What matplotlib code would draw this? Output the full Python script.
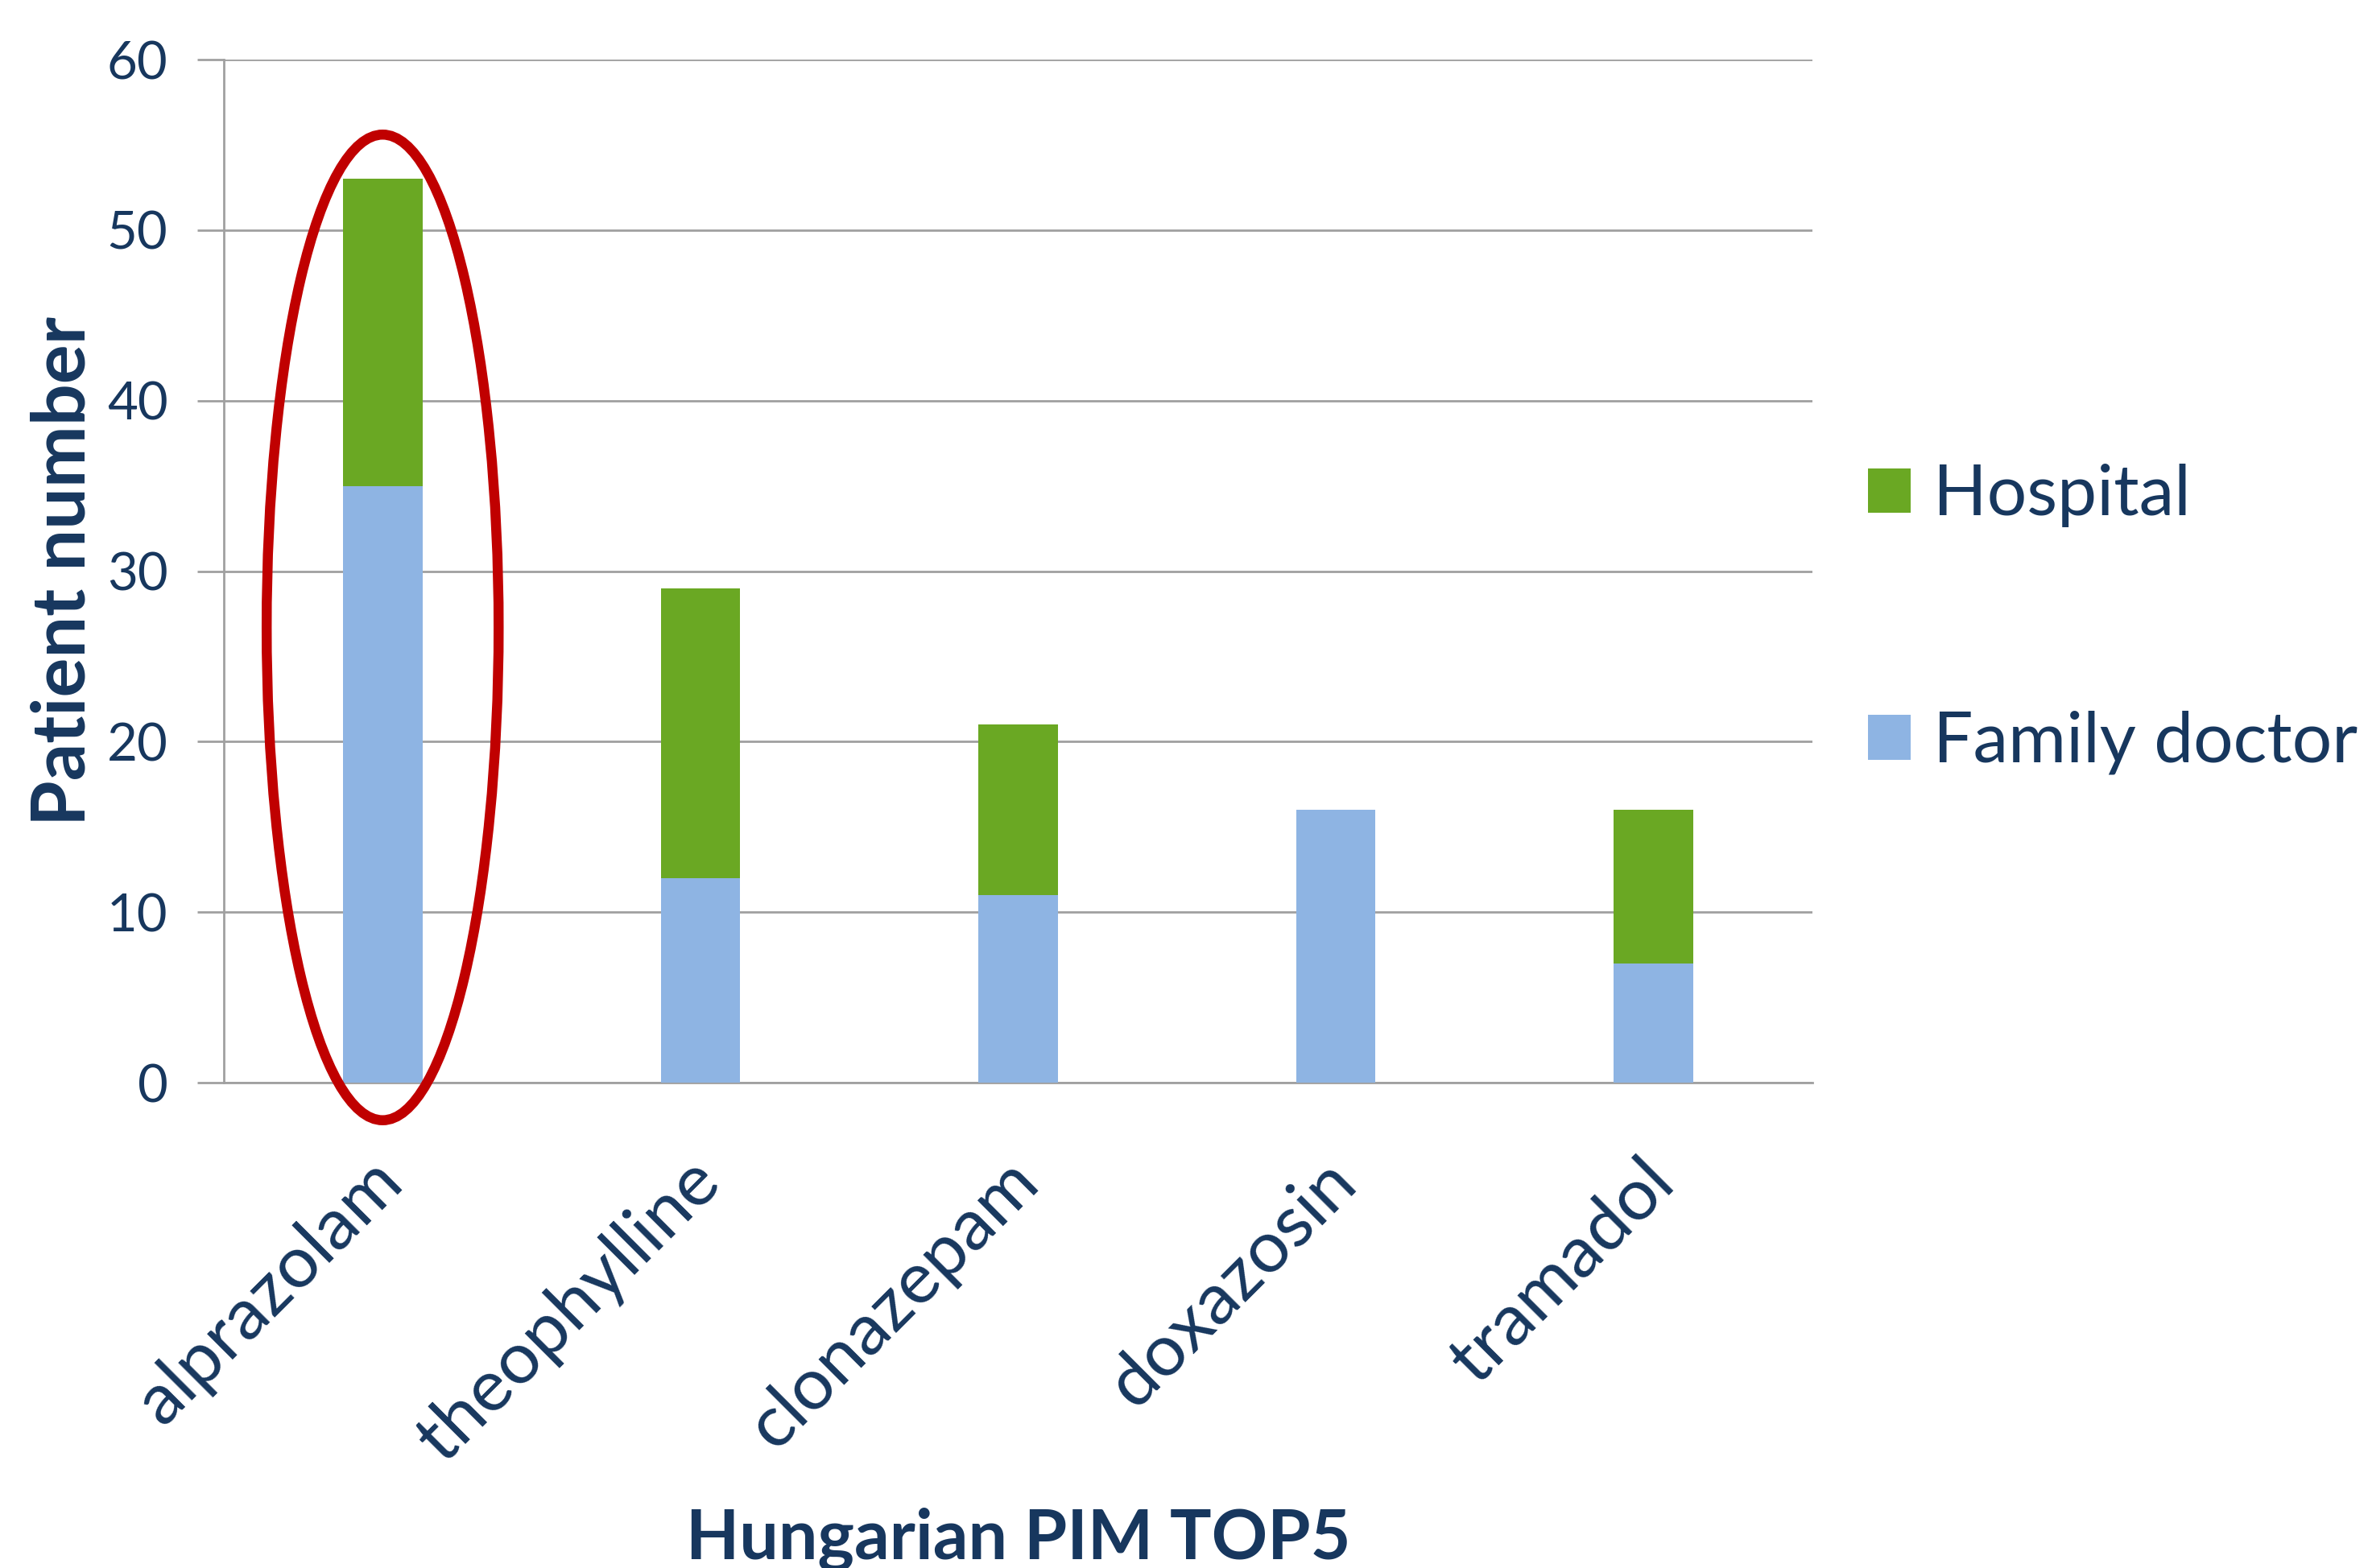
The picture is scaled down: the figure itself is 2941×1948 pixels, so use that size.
import matplotlib.pyplot as plt
from matplotlib.patches import Ellipse
from matplotlib.transforms import ScaledTranslation

drugs = ['alprazolam', 'theophylline', 'clonazepam', 'doxazosin', 'tramadol']
family_doctor = [35, 12, 11, 16, 7]
hospital = [18, 17, 10, 0, 9]
yticks = [0, 10, 20, 30, 40, 50, 60]

navy = '#17375E'
green = '#6AA823'
blue = '#8EB4E3'
grid = '#A0A0A0'

plt.rcParams['font.family'] = ['Lato', 'DejaVu Sans']

fig = plt.figure(figsize=[29.41, 19.48], dpi=100)
ax = fig.add_axes([0.0945, 0.3095, 0.6709, 0.6525])

x = list(range(len(drugs)))
ax.bar(x, family_doctor, width=0.25, color=blue, label='Family doctor', zorder=3)
ax.bar(x, hospital, width=0.25, bottom=family_doctor, color=green, label='Hospital', zorder=3)

ax.set_xlim(-0.5, len(drugs) - 0.5)
ax.set_ylim(0, 60)
ax.set_yticks(yticks)
ax.yaxis.grid(True, color=grid, linewidth=2, zorder=0)
ax.set_axisbelow(True)

for s in ['top', 'right']:
    ax.spines[s].set_visible(False)
ax.spines['left'].set_color(grid)
ax.spines['left'].set_linewidth(2)
ax.spines['bottom'].set_color(grid)
ax.spines['bottom'].set_linewidth(2)

ax.tick_params(axis='y', length=24, width=2, color=grid, labelsize=47, labelcolor=navy, pad=26)
ax.tick_params(axis='x', length=0, labelsize=65, labelcolor=navy, pad=58)
ax.set_xticks(x)
ax.set_xticklabels(drugs, rotation=45, ha='right', rotation_mode='anchor')
# nudge the rotated names a little to the left
shift = ScaledTranslation(-0.18, 0, fig.dpi_scale_trans)
for lbl in ax.get_xticklabels():
    lbl.set_transform(lbl.get_transform() + shift)

ax.set_ylabel('Patient number', fontsize=66, fontweight='bold', color=navy, labelpad=8)
ax.set_xlabel('Hungarian PIM TOP5', fontsize=62, fontweight='bold', color=navy)
ax.xaxis.set_label_coords(0.5, -0.415)

# red highlight around the first bar
ell = Ellipse((0, 26.7), width=0.73, height=57.8, fill=False, edgecolor='#C00000',
              linewidth=9, clip_on=False, zorder=5)
ax.add_patch(ell)

handles, labels = ax.get_legend_handles_labels()
leg = ax.legend(handles[::-1], labels[::-1], loc='center left', bbox_to_anchor=(1.035, 0.453),
                frameon=False, fontsize=63, labelcolor=navy, labelspacing=2.6,
                handlelength=0.6, handleheight=0.6, handletextpad=0.33,
                borderpad=0, borderaxespad=0)

fig.savefig('out.png', dpi=100)
